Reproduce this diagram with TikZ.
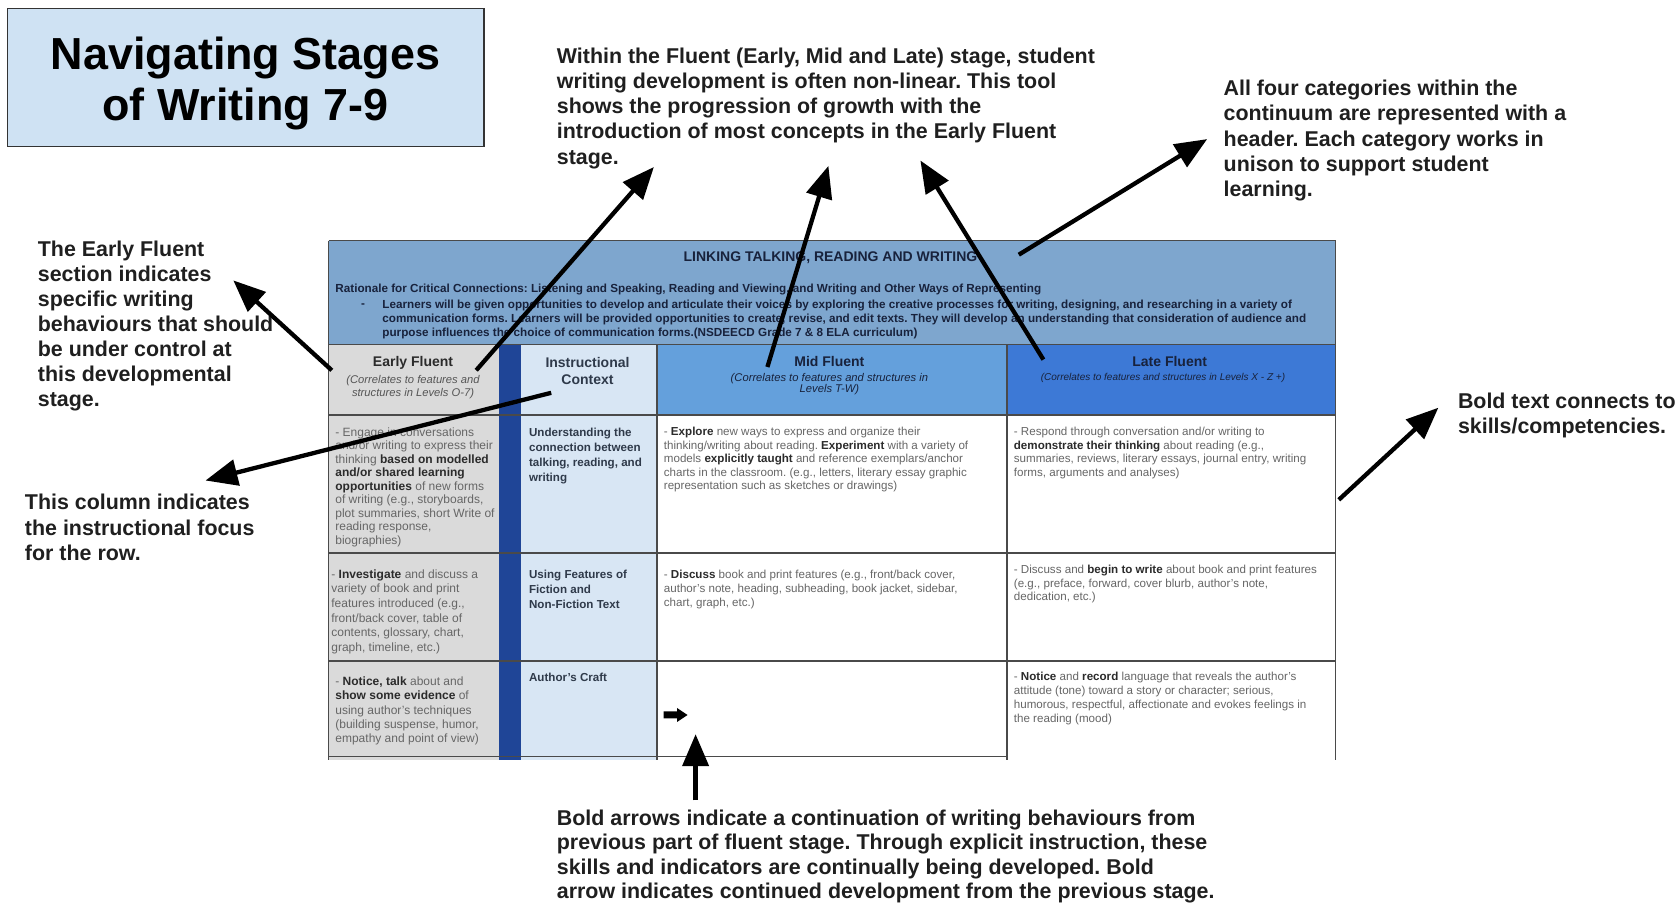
\documentclass[tikz,border=0pt]{standalone}
\usepackage{fontspec}
\setmainfont{Liberation Sans}
\usetikzlibrary{arrows.meta}
\definecolor{titlefill}{HTML}{CFE2F3}
\definecolor{bandfill}{HTML}{7EA6CE}
\definecolor{earlyfill}{HTML}{DADADA}
\definecolor{barfill}{HTML}{1F4597}
\definecolor{instrfill}{HTML}{D8E6F4}
\definecolor{midfill}{HTML}{64A0DC}
\definecolor{latefill}{HTML}{3D79D6}
\definecolor{gridline}{HTML}{4A4A4A}
\definecolor{navytext}{HTML}{18223C}
\definecolor{txtgray}{HTML}{666666}
\definecolor{subgray}{HTML}{555555}
\definecolor{txtdark}{HTML}{2B2B2B}
\definecolor{instrtext}{HTML}{2F3A4A}
\newcommand{\bd}[1]{{\bfseries\color{txtdark}#1}}
\begin{document}
\frenchspacing
\begin{tikzpicture}[x=0.5pt,y=-0.5pt,
  ann/.style={font=\bfseries\fontsize{10.7}{12.55}\selectfont, align=left, anchor=north west, inner sep=0pt, text=black!88},
  body/.style={font=\fontsize{5.8}{6.75}\selectfont, align=left, anchor=north west, inner sep=0pt, text=txtgray},
  instr/.style={font=\bfseries\fontsize{5.8}{7.5}\selectfont, align=left, anchor=north west, inner sep=0pt, text=instrtext},
  colhead/.style={font=\bfseries\fontsize{7}{8.6}\selectfont, align=center, inner sep=0pt},
  colsub/.style={font=\itshape\fontsize{5.6}{6.95}\selectfont, align=center, anchor=north, inner sep=0pt},
  band/.style={inner sep=0pt, text=navytext},
  grid/.style={draw=gridline, line width=0.65pt},
  pointer/.style={line width=2.15pt, draw=black, -{Triangle[length=16pt,width=13pt]}}
]
\useasboundingbox (0,0) rectangle (1678,903);
\fill[white] (0,0) rectangle (1678,903);

% title
\draw[fill=titlefill, draw=black!80, line width=0.8pt] (7.5,8.6) rectangle (484,146.6);
\node[font=\bfseries\fontsize{22.45}{25.7}\selectfont, align=center, inner sep=0pt] (title) at (245.5,83.7) {Navigating Stages\\of Writing 7-9};

% table fills
\fill[bandfill] (328.5,240.8) rectangle (1335.6,344.6);
\fill[earlyfill] (328.5,344.6) rectangle (498.7,760);
\fill[barfill] (498.7,344.6) rectangle (521,760);
\fill[instrfill] (521,344.6) rectangle (657,760);
\fill[midfill] (657,344.6) rectangle (1007,415);
\fill[latefill] (1007,344.6) rectangle (1335.6,415);

% grid
\draw[grid] (328.5,240.8) -- (1335.6,240.8);
\draw[grid] (328.5,344.6) -- (1335.6,344.6);
\draw[grid] (328.5,415) -- (1335.6,415);
\draw[grid] (328.5,553) -- (1335.6,553);
\draw[grid] (328.5,661) -- (1335.6,661);
\draw[grid] (328.5,756.6) -- (1007,756.6);
\draw[grid] (328.5,240.8) -- (328.5,760);
\draw[grid] (657,344.6) -- (657,760);
\draw[grid] (1007,344.6) -- (1007,760);
\draw[grid] (1335.6,240.8) -- (1335.6,760);

% header band text
\node[band, font=\bfseries\fontsize{7}{8}\selectfont] (linking) at (830.5,258) {LINKING TALKING, READING AND WRITING};
\node[band, anchor=base west, font=\bfseries\fontsize{5.85}{7}\selectfont] (rationale) at (335,293) {Rationale for Critical Connections: Listening and Speaking, Reading and Viewing, and Writing and Other Ways of Representing};
\node[band, anchor=base west, font=\bfseries\fontsize{5.85}{7}\selectfont] (dash) at (360.7,308) {-};
\node[band, anchor=north west, align=left, font=\bfseries\fontsize{5.85}{7}\selectfont] (bullet) at (382,299.5) {Learners will be given opportunities to develop and articulate their voices by exploring the creative processes for writing, designing, and researching in a variety of\\communication forms. Learners will be provided opportunities to create, revise, and edit texts. They will develop an understanding that consideration of audience and\\purpose influences the choice of communication forms.(NSDEECD Grade 7 \& 8 ELA curriculum)};

% column headers
\node[colhead, anchor=base, text=txtdark] (efh) at (413,366.7) {Early Fluent};
\node[colsub, text=subgray] (efs) at (413,374.5) {(Correlates to features and\\structures in Levels O-7)};
\node[colhead, anchor=north, text=instrtext] (ich) at (587.5,356.5) {Instructional\\Context};
\node[colhead, anchor=base, text=navytext] (mfh) at (829.4,366.7) {Mid Fluent};
\node[colsub, text=navytext, font=\itshape\fontsize{5.6}{5.9}\selectfont] (mfs) at (829.4,372.5) {(Correlates to features and structures in\\Levels T-W)};
\node[colhead, anchor=base, text=navytext] (lfh) at (1169.7,366.7) {Late Fluent};
\node[colsub, text=navytext, font=\itshape\fontsize{5}{5.9}\selectfont] (lfs) at (1163,373) {(Correlates to features and structures in Levels X - Z +)};

% row 1
\node[body, font=\fontsize{6}{6.75}\selectfont] (r1e) at (335,427) {- Engage in conversations\\and/or writing to express their\\thinking \bd{based on modelled}\\\bd{and/or shared learning}\\\bd{opportunities} of new forms\\of writing (e.g., storyboards,\\plot summaries, short Write of\\reading response,\\biographies)};
\node[instr] (r1i) at (528.7,427.4) {Understanding the\\connection between\\talking, reading, and\\writing};
\node[body] (r1m) at (663.5,427) {- \bd{Explore} new ways to express and organize their\\thinking/writing about reading. \bd{Experiment} with a variety of\\models \bd{explicitly taught} and reference exemplars/anchor\\charts in the classroom. (e.g., letters, literary essay graphic\\representation such as sketches or drawings)};
\node[body] (r1l) at (1013.5,427) {- Respond through conversation and/or writing to\\\bd{demonstrate their thinking} about reading (e.g.,\\summaries, reviews, literary essays, journal entry, writing\\forms, arguments and analyses)};

% row 2
\node[body, font=\fontsize{6}{7.3}\selectfont] (r2e) at (331,569.3) {- \bd{Investigate} and discuss a\\variety of book and print\\features introduced (e.g.,\\front/back cover, table of\\contents, glossary, chart,\\graph, timeline, etc.)};
\node[instr] (r2i) at (528.7,569.7) {Using Features of\\Fiction and\\Non-Fiction Text};
\node[body, font=\fontsize{5.8}{7.2}\selectfont] (r2m) at (663.5,569.3) {- \bd{Discuss} book and print features (e.g., front/back cover,\\author's note, heading, subheading, book jacket, sidebar,\\chart, graph, etc.)};
\node[body] (r2l) at (1013.5,565) {- Discuss and \bd{begin to write} about book and print features\\(e.g., preface, forward, cover blurb, author's note,\\dedication, etc.)};

% row 3
\node[body, font=\fontsize{6}{7.2}\selectfont] (r3e) at (335,676.3) {- \bd{Notice, talk} about and\\\bd{show some evidence} of\\using author's techniques\\(building suspense, humor,\\empathy and point of view)};
\node[instr] (r3i) at (528.7,672.5) {Author's Craft};
\node[body, font=\fontsize{5.8}{6.95}\selectfont] (r3l) at (1013.5,672) {- \bd{Notice} and \bd{record} language that reveals the author's\\attitude (tone) toward a story or character; serious,\\humorous, respectful, affectionate and evokes feelings in\\the reading (mood)};
\fill[black] (663.5,711.5) -- (677,711.5) -- (677,708) -- (687.5,715) -- (677,722) -- (677,718.5) -- (663.5,718.5) -- cycle;

% annotations
\node[ann] (within) at (556.5,47.7) {Within the Fluent (Early, Mid and Late) stage, student\\writing development is often non-linear. This tool\\shows the progression of growth with the\\introduction of most concepts in the Early Fluent\\stage.};
\node[ann] (allfour) at (1223.3,79.9) {All four categories within the\\continuum are represented with a\\header. Each category works in\\unison to support student\\learning.};
\node[ann] (earlytxt) at (37.5,240.4) {The Early Fluent\\section indicates\\specific writing\\behaviours that should\\be under control at\\this developmental\\stage.};
\node[ann] (thiscol) at (24.6,494) {This column indicates\\the instructional focus\\for the row.};
\node[ann] (boldtext) at (1457.6,392.4) {Bold text connects to\\skills/competencies.};
\node[ann, font=\bfseries\fontsize{10.7}{12.2}\selectfont] (boldarrows) at (556.5,809.5) {Bold arrows indicate a continuation of writing behaviours from\\previous part of fluent stage. Through explicit instruction, these\\skills and indicators are continually being developed. Bold\\arrow indicates continued development from the previous stage.};

% pointer arrows
\coordinate (a1s) at (331.8,370.3); \coordinate (a1e) at (233.3,280.4);
\coordinate (a2s) at (476.2,370.3); \coordinate (a2e) at (653.9,167);
\coordinate (a3s) at (767.4,367);   \coordinate (a3e) at (828.4,165.9);
\coordinate (a4s) at (1043.4,359.6); \coordinate (a4e) at (920.4,160.5);
\coordinate (a5s) at (1018.8,254.7); \coordinate (a5e) at (1207.2,139.1);
\coordinate (a6s) at (551.2,392.8); \coordinate (a6e) at (205.5,480.5);
\coordinate (a7s) at (1338.8,499.8); \coordinate (a7e) at (1438.4,407.7);
\coordinate (a8s) at (695.6,800.5); \coordinate (a8e) at (695.6,734.2);
\draw[pointer] (a1s) -- (a1e);
\draw[pointer] (a2s) -- (a2e);
\draw[pointer] (a3s) -- (a3e);
\draw[pointer] (a4s) -- (a4e);
\draw[pointer] (a5s) -- (a5e);
\draw[pointer] (a6s) -- (a6e);
\draw[pointer] (a7s) -- (a7e);
\draw[pointer] (a8s) -- (a8e);
\end{tikzpicture}
\end{document}
